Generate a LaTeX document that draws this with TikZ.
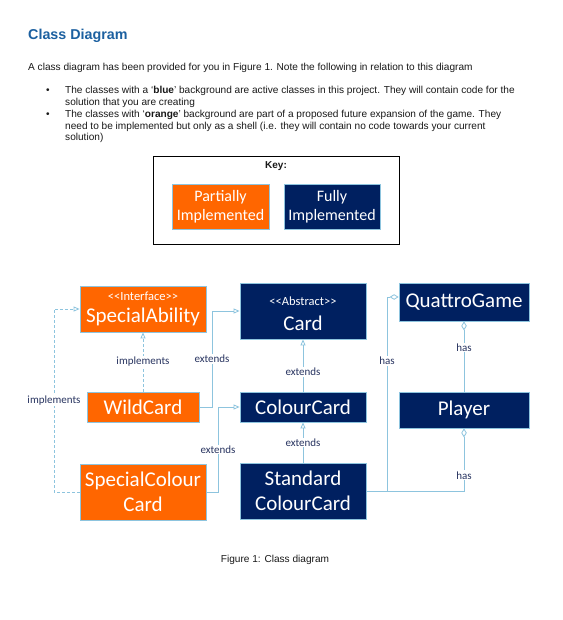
\documentclass[tikz,border=0pt]{standalone}
\usepackage{fontspec}
\setmainfont{Liberation Sans}
\newfontfamily\calfont{Carlito}
\usetikzlibrary{arrows.meta}
\definecolor{orng}{RGB}{255,102,0}
\definecolor{navy}{RGB}{0,32,96}
\definecolor{edge}{RGB}{141,196,222}
\definecolor{lab}{RGB}{40,52,96}
\definecolor{ttl}{RGB}{28,96,160}
\definecolor{txt}{RGB}{25,25,25}
\tikzset{
  cls/.style={draw=edge, line width=0.8pt, text=white, align=center, inner sep=0pt, font=\calfont\fontsize{21}{25}\selectfont},
  ocls/.style={cls, fill=orng},
  bcls/.style={cls, fill=navy},
  conn/.style={draw=edge, line width=0.8pt},
  dconn/.style={conn, dash pattern=on 3pt off 2pt},
  tri/.style={-{Triangle[open, length=6pt, width=5pt]}},
  dia/.style={-{Diamond[open, length=9pt, width=5.5pt]}},
  lbl/.style={fill=white, text=lab, inner sep=1pt, font=\calfont\fontsize{11}{13}\selectfont},
  body/.style={anchor=base west, inner sep=0pt, text=txt, font=\fontsize{10.1}{12}\selectfont},
}
\begin{document}
\begin{tikzpicture}[x=1pt, y=-1pt]
\useasboundingbox[fill=white] (0,0) rectangle (562,620);
% header text
\node[anchor=base west, inner sep=0pt, text=ttl, font=\bfseries\fontsize{14.3}{17}\selectfont] (title) at (28,40) {Class Diagram};
\node[body] (intro) at (28,71) {A class diagram has been provided for you in Figure 1. Note the following in relation to this diagram};
\node[body] (b1) at (46,94) {\textbullet};
\node[body] (l1) at (65,94) {The classes with a `\textbf{blue}' background are active classes in this project. They will contain code for the};
\node[body] (l2) at (65,106) {solution that you are creating};
\node[body] (b2) at (46,118) {\textbullet};
\node[body] (l3) at (65,118) {The classes with `\textbf{orange}' background are part of a proposed future expansion of the game. They};
\node[body] (l4) at (65,130) {need to be implemented but only as a shell (i.e. they will contain no code towards your current};
\node[body] (l5) at (65,141) {solution)};
% key
\node[draw=black, line width=0.9pt, minimum width=246pt, minimum height=88pt, inner sep=0pt] (key) at (276,200) {};
\node[font=\bfseries\fontsize{10}{12}\selectfont, text=txt] (keyt) at (276,166) {Key:};
\node[ocls, minimum width=97pt, minimum height=45pt, font=\calfont\fontsize{16}{19}\selectfont] (kp) at (220.5,206.5) {Partially\\Implemented};
\node[bcls, minimum width=96pt, minimum height=45pt, font=\calfont\fontsize{16}{19}\selectfont] (kf) at (332,206.5) {Fully\\Implemented};
% classes
\node[ocls, minimum width=126pt, minimum height=46pt] (sa) at (143,309) {};
\node[text=white, font=\calfont\fontsize{12.5}{14}\selectfont] (sat) at (143,296) {<<Interface>>};
\node[text=white, font=\calfont\fontsize{21}{25}\selectfont] (san) at (143,317) {SpecialAbility};
\node[ocls, minimum width=112pt, minimum height=30pt] (wc) at (143,407) {WildCard};
\node[ocls, minimum width=126pt, minimum height=56pt] (scc) at (143,492) {SpecialColour\\Card};
\node[bcls, minimum width=126pt, minimum height=56pt] (card) at (303,311) {};
\node[text=white, font=\calfont\fontsize{12.5}{14}\selectfont] (cardt) at (303,301.5) {<<Abstract>>};
\node[text=white, font=\calfont\fontsize{21}{25}\selectfont] (cardn) at (303,323) {Card};
\node[bcls, minimum width=126pt, minimum height=30pt] (cc) at (303,407) {ColourCard};
\node[bcls, minimum width=126pt, minimum height=56pt] (std) at (303,491) {Standard\\ColourCard};
\node[bcls, minimum width=130pt, minimum height=38pt] (qg) at (464,302) {QuattroGame};
\node[bcls, minimum width=130pt, minimum height=36pt] (pl) at (464,410) {Player};
% connectors
\draw[dconn, tri] (wc.north) -- node[lbl] {implements} (sa.south);
\coordinate (i1) at (54,492);
\coordinate (i2) at (54,309);
\draw[dconn, tri] (scc.west) -- (i1) -- node[lbl] {implements} (i2) -- (sa.west);
\coordinate (e1) at (212,407);
\coordinate (e2) at (212,311);
\draw[conn, tri] (wc.east) -- (e1) -- node[lbl] {extends} (e2) -- (card.west);
\coordinate (f1) at (218,492);
\coordinate (f2) at (218,407);
\draw[conn, tri] (scc.east) -- (f1) -- node[lbl] {extends} (f2) -- (cc.west);
\draw[conn, tri] (cc.north) -- node[lbl, pos=0.38] {extends} (card.south);
\draw[conn, tri] (std.north) -- node[lbl] {extends} (cc.south);
\coordinate (h1) at (387,491);
\coordinate (h2) at (387,297);
\coordinate (h3) at (464,491);
\draw[conn, dia] (std.east) -- (h1) -- node[lbl, pos=0.67] {has} (h2) -- (h2 -| qg.west);
\draw[conn, dia] (h1) -- (h3) -- node[lbl, pos=0.25] {has} (pl.south);
\draw[conn, dia] (pl.north) -- node[lbl, pos=0.63] {has} (qg.south);
% caption
\node[anchor=base, inner sep=0pt, text=txt, font=\fontsize{10.1}{12}\selectfont] (cap) at (275,562) {Figure 1: Class diagram};
\end{tikzpicture}
\end{document}
